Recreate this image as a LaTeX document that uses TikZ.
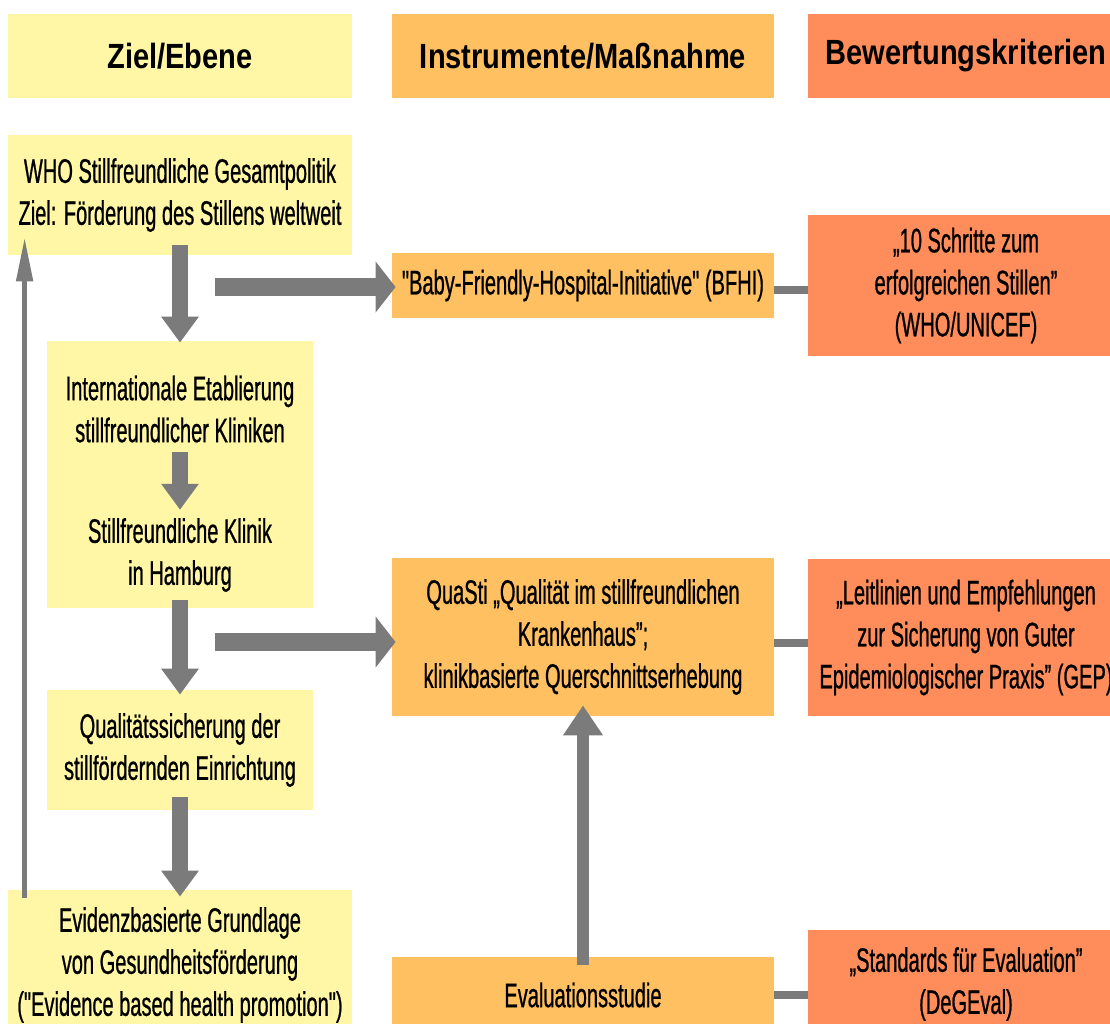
\documentclass[tikz,border=0pt]{standalone}
\usepackage{fontspec}
\setmainfont[FakeStretch=0.59,FakeBold=0.7,Ligatures=TeXOff]{Liberation Sans}
\newfontfamily\headfont[FakeStretch=0.83,Ligatures=TeXOff]{Liberation Sans}
\usetikzlibrary{arrows.meta}
\definecolor{cyel}{HTML}{FFF6A6}
\definecolor{corg}{HTML}{FFC062}
\definecolor{csal}{HTML}{FF8D5B}
\definecolor{cgry}{HTML}{7B7B7B}
\begin{document}
\begin{tikzpicture}[x=0.5pt,y=-0.5pt,
  box/.style={inner sep=0pt, align=center, font=\fontsize{17}{21}\selectfont},
  txt/.style={inner sep=0pt, align=center, font=\fontsize{17}{21}\selectfont},
  head/.style={inner sep=0pt, align=center, font=\headfont\bfseries\fontsize{17.5}{21}\selectfont},
  yel/.style={fill=cyel},
  org/.style={fill=corg},
  sal/.style={fill=csal},
  hbig/.style={color=cgry, line width=9pt, -{Triangle[width=25pt,length=10pt]}},
  vbig/.style={color=cgry, line width=8pt, -{Triangle[width=18pt,length=13pt]}},
  vmid/.style={color=cgry, line width=6pt, -{Triangle[width=19pt,length=15pt]}},
  ret/.style={color=cgry, line width=2.5pt, -{Triangle[width=8pt,length=22pt]}},
  link/.style={color=cgry, line width=4pt}]
\useasboundingbox (0,0) rectangle (1110,1024);

% headers
\node[head,yel,minimum width=172pt,minimum height=42pt] (hz) at (180,56) {Ziel/Ebene};
\node[head,org,minimum width=191pt,minimum height=42pt] (hi) at (583,56) {Instrumente/Maßnahme};
\node[head,sal,minimum width=158pt,minimum height=42pt] (hb) at (966,56) {Bewertungskriterien};

% left column
\node[box,yel,minimum width=172pt,minimum height=60pt] (who) at (180,195)
  {WHO Stillfreundliche Gesamtpolitik\\Ziel: Förderung des Stillens weltweit};
\node[box,yel,minimum width=133pt,minimum height=133.5pt] (intl) at (180,474.5) {};
\node[txt] (t1) at (180,409) {Internationale Etablierung\\stillfreundlicher Kliniken};
\node[txt] (t2) at (180,555) {Stillfreundliche Klinik\\in Hamburg};
\node[box,yel,minimum width=133pt,minimum height=60pt] (qual) at (180,750)
  {Qualitätssicherung der\\stillfördernden Einrichtung};
\node[box,yel,minimum width=172pt,minimum height=75pt] (evid) at (180,965)
  {Evidenzbasierte Grundlage\\von Gesundheitsförderung\\("Evidence based health promotion")};

% middle column
\node[box,org,minimum width=191pt,minimum height=32.5pt] (bfhi) at (583,285.5)
  {"Baby-Friendly-Hospital-Initiative" (BFHI)};
\node[box,org,minimum width=191pt,minimum height=79pt] (quasti) at (583,637)
  {QuaSti „Qualität im stillfreundlichen\\Krankenhaus”;\\klinikbasierte Querschnittserhebung};
\node[box,org,minimum width=191pt,minimum height=38pt] (eval) at (583,995)
  {Evaluationsstudie};

% right column
\node[box,sal,minimum width=158pt,minimum height=70.5pt] (sch) at (966,285.5)
  {„10 Schritte zum\\erfolgreichen Stillen”\\(WHO/UNICEF)};
\node[box,sal,minimum width=158pt,minimum height=78.5pt] (leit) at (966,637.5)
  {„Leitlinien und Empfehlungen\\zur Sicherung von Guter\\Epidemiologischer Praxis” (GEP)};
\node[box,sal,minimum width=158pt,minimum height=54pt] (std) at (966,984)
  {„Standards für Evaluation”\\(DeGEval)};

% vertical arrows left
\draw[vbig] ([yshift=5pt]who.south) -- ([yshift=-1pt]intl.north);
\draw[vbig] ([yshift=-4.5pt]t1.south) -- ([yshift=4pt]t2.north);
\draw[vbig] ([yshift=4pt]intl.south) -- ([yshift=-2.5pt]qual.north);
\draw[vbig] ([yshift=6.5pt]qual.south) -- ([yshift=-3.5pt]evid.north);

% return arrow
\draw[ret] ([xshift=8.5pt,yshift=-4pt]evid.north west) -- ([xshift=8.5pt,yshift=9pt]who.south west);

% horizontal arrows
\coordinate (a1) at (215,287);
\coordinate (a2) at (215,642);
\draw[hbig] (a1) -- ([xshift=2pt]a1 -| bfhi.west);
\draw[hbig] (a2) -- ([xshift=2pt]a2 -| quasti.west);

% evaluation arrow
\draw[vmid] ([yshift=-4pt]eval.north) -- ([yshift=5.5pt]quasti.south);

% links
\draw[link] ([yshift=-2pt]bfhi.east) -- ([yshift=-2pt]bfhi.east -| sch.west);
\draw[link] ([yshift=-3pt]quasti.east) -- ([yshift=-3pt]quasti.east -| leit.west);
\draw[link] (eval.east) -- (eval.east -| std.west);
\end{tikzpicture}
\end{document}
